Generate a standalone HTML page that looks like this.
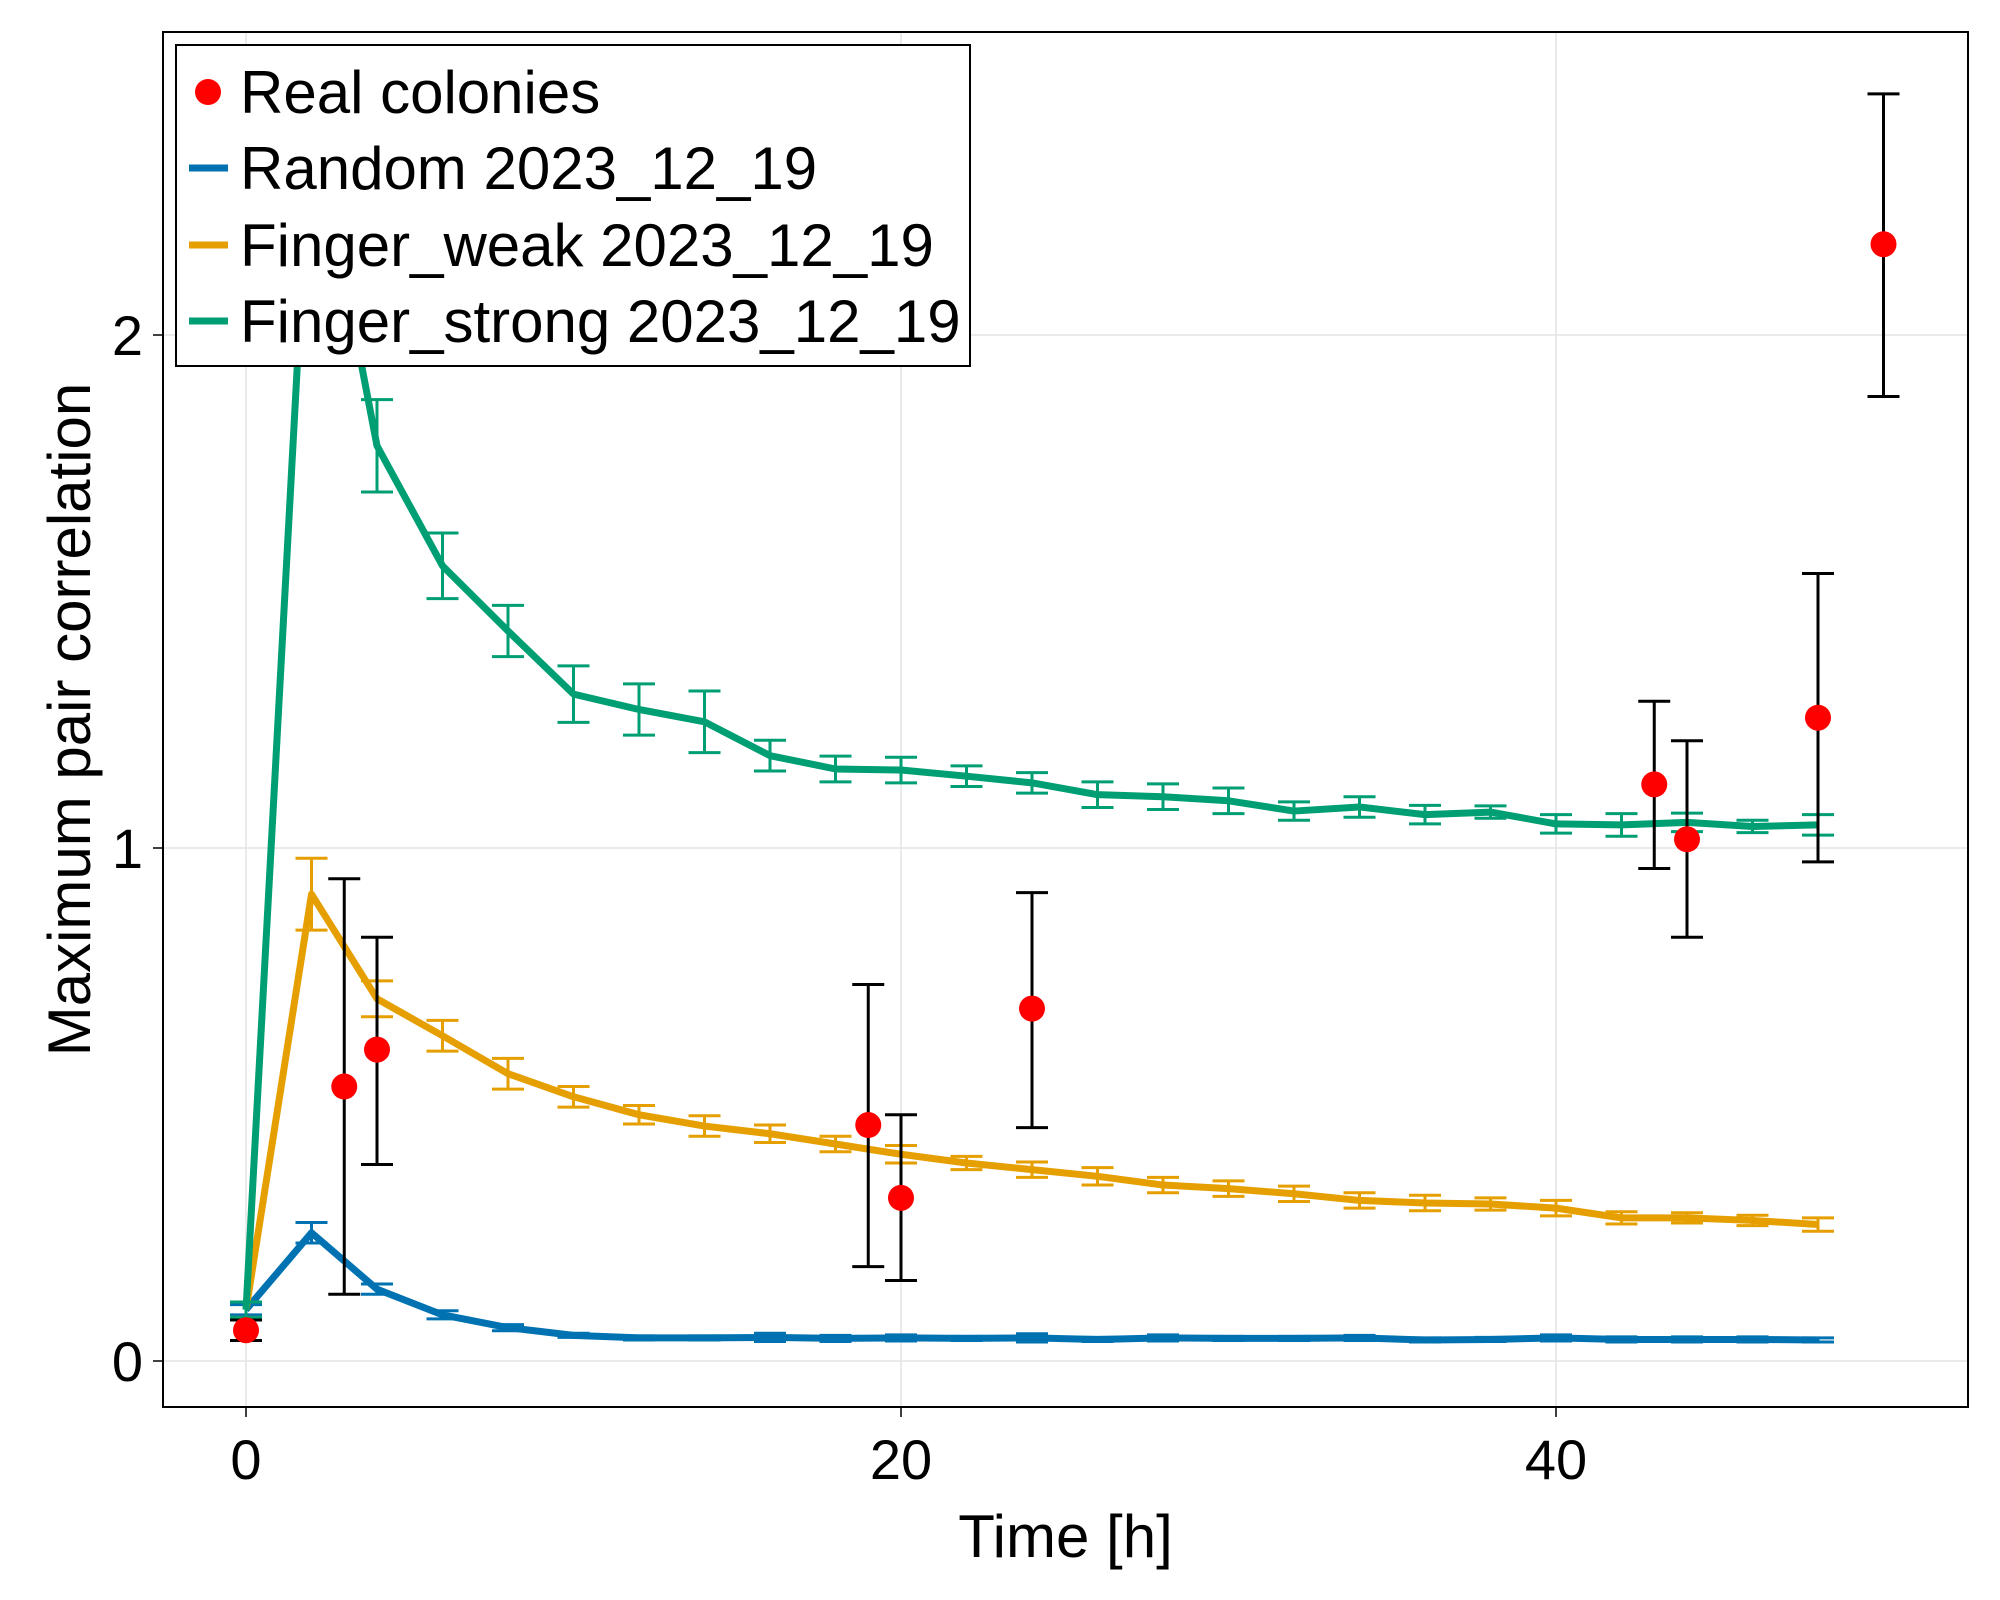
<!DOCTYPE html>
<html><head><meta charset="utf-8"><style>
html,body{margin:0;padding:0;background:#fff;}
svg{display:block;font-family:"Liberation Sans",Arial,sans-serif;}
</style></head>
<body>
<svg id="chart" width="2000" height="1600" viewBox="0 0 2000 1600" xmlns="http://www.w3.org/2000/svg">
<rect width="2000" height="1600" fill="#fff"/>
<g id="grid"></g>
<g id="marks"></g>
<g id="axes"></g>
<g id="legend"></g>
</svg>
<script>
const simTimes = [0,2,4,6,8,10,12,14,16,18,20,22,24,26,28,30,32,34,36,38,40,42,44,46,48];
const randomMean = [0.10,0.25,0.14,0.09,0.065,0.05,0.045,0.045,0.046,0.044,0.045,0.044,0.045,0.042,0.045,0.044,0.044,0.045,0.041,0.042,0.045,0.042,0.042,0.042,0.041];
const randomErr = [0.01,0.02,0.01,0.008,0.006,0.004,0.004,0.004,0.008,0.006,0.006,0.004,0.008,0.004,0.006,0.004,0.004,0.005,0.004,0.004,0.006,0.005,0.005,0.005,0.004];
const weakMean = [0.10,0.91,0.706,0.634,0.56,0.515,0.48,0.458,0.443,0.423,0.403,0.386,0.373,0.36,0.343,0.336,0.326,0.313,0.308,0.306,0.298,0.279,0.279,0.274,0.266];
const weakErr = [0.015,0.07,0.035,0.03,0.03,0.02,0.018,0.02,0.017,0.015,0.017,0.013,0.015,0.017,0.015,0.015,0.015,0.015,0.015,0.012,0.015,0.012,0.01,0.01,0.013];
const strongMean = [0.10,2.45,1.784,1.55,1.423,1.30,1.27,1.246,1.18,1.154,1.152,1.14,1.127,1.104,1.10,1.092,1.072,1.08,1.065,1.07,1.047,1.045,1.05,1.042,1.045];
const strongErr = [0.015,0.09,0.09,0.064,0.05,0.055,0.05,0.06,0.03,0.025,0.025,0.02,0.02,0.025,0.025,0.025,0.018,0.02,0.018,0.012,0.018,0.022,0.018,0.012,0.02];
const realTimes = [0,3,4,19,20,24,43,44,48,50];
const realMean = [0.06,0.535,0.607,0.46,0.318,0.687,1.124,1.017,1.254,2.177];
const realLow = [0.04,0.13,0.383,0.184,0.157,0.455,0.96,0.826,0.973,1.88];
const realHigh = [0.08,0.94,0.826,0.734,0.48,0.913,1.286,1.209,1.535,2.47];
const xTicks = [0,20,40];
const yTicks = [0,1,2];
const xTickLabels = ["0","20","40"];
const yTickLabels = ["0","1","2"];

const NS="http://www.w3.org/2000/svg";
const L=163,R=1968,T=32,B=1407;
const x0=246, xs=32.75, y0=1361, ys=513;
const X=v=>x0+v*xs, Y=v=>y0-v*ys;
function mk(tag,attrs,parent){const e=document.createElementNS(NS,tag);for(const k in attrs)e.setAttribute(k,attrs[k]);parent.appendChild(e);return e;}
const grid=document.getElementById('grid'),marks=document.getElementById('marks'),axes=document.getElementById('axes'),legend=document.getElementById('legend');

const defs=mk('defs',{},document.getElementById('chart'));
const cp=mk('clipPath',{id:'clip'},defs);
mk('rect',{x:L,y:T,width:R-L,height:B-T},cp);
marks.setAttribute('clip-path','url(#clip)');

xTicks.forEach((t,i)=>{
  const g=mk('line',{x1:X(t),x2:X(t),y1:T,y2:B,stroke:'#e3e3e3','stroke-width':1.5},grid);
  
  
  const tk=mk('line',{x1:X(t),x2:X(t),y1:B,y2:B+10,stroke:'#000','stroke-width':1.5},axes);
  
  
  const tx=mk('text',{x:X(t),y:B+72,'text-anchor':'middle','font-size':56,fill:'#000'},axes);
  tx.textContent=xTickLabels[i];
  
  
});
yTicks.forEach((t,i)=>{
  const g=mk('line',{x1:L,x2:R,y1:Y(t),y2:Y(t),stroke:'#e3e3e3','stroke-width':1.5},grid);
  
  
  const tk=mk('line',{x1:L-10,x2:L,y1:Y(t),y2:Y(t),stroke:'#000','stroke-width':1.5},axes);
  
  
  const tx=mk('text',{x:L-20,y:Y(t)+20,'text-anchor':'end','font-size':56,fill:'#000'},axes);
  tx.textContent=yTickLabels[i];
  
  
});

function series(means,errs,color,name){
  const g=mk('g',{},marks);
  
  
  simTimes.forEach((t,i)=>{
    const e=mk('path',{d:`M${X(t)-16},${Y(means[i]+errs[i])}H${X(t)+16}M${X(t)},${Y(means[i]+errs[i])}V${Y(means[i]-errs[i])}M${X(t)-16},${Y(means[i]-errs[i])}H${X(t)+16}`,stroke:color,'stroke-width':3,fill:'none'},g);
    
    
  });
  const p=mk('polyline',{points:simTimes.map((t,i)=>X(t)+','+Y(means[i])).join(' '),stroke:color,'stroke-width':7,fill:'none','stroke-linejoin':'round'},g);
  
  
}
series(randomMean,randomErr,'#0072b2','random');
series(weakMean,weakErr,'#e69f00','finger-weak');
series(strongMean,strongErr,'#009e73','finger-strong');

const rg=mk('g',{},marks);


realTimes.forEach((t,i)=>{
  const e=mk('path',{d:`M${X(t)-16},${Y(realHigh[i])}H${X(t)+16}M${X(t)},${Y(realHigh[i])}V${Y(realLow[i])}M${X(t)-16},${Y(realLow[i])}H${X(t)+16}`,stroke:'#000','stroke-width':3,fill:'none'},rg);
  
  
});
realTimes.forEach((t,i)=>{
  const c=mk('circle',{cx:X(t),cy:Y(realMean[i]),r:13,fill:'#ff0000'},rg);
  
  
});

const frame=mk('rect',{x:L,y:T,width:R-L,height:B-T,fill:'none',stroke:'#000','stroke-width':2},axes);


const xt=mk('text',{x:(L+R)/2,y:1557,'text-anchor':'middle','font-size':60,fill:'#000'},axes);
xt.textContent='Time [h]';


const yt=mk('text',{x:0,y:0,'text-anchor':'middle','font-size':60,fill:'#000',transform:`translate(90,${(T+B)/2}) rotate(-90)`},axes);
yt.textContent='Maximum pair correlation';



const lb=mk('rect',{x:176,y:45,width:794,height:321,fill:'#fff',stroke:'#000','stroke-width':2},legend);


const legLabels=['Real colonies','Random 2023_12_19','Finger_weak 2023_12_19','Finger_strong 2023_12_19'];
const legColors=['#ff0000','#0072b2','#e69f00','#009e73'];
const legY=[92,168,245,321];
legLabels.forEach((lab,i)=>{
  const g=mk('g',{},legend);
  
  
  if(i===0) mk('circle',{cx:208,cy:legY[i],r:13,fill:legColors[i]},g);
  else mk('line',{x1:189,x2:228,y1:legY[i],y2:legY[i],stroke:legColors[i],'stroke-width':7},g);
  const t=mk('text',{x:240,y:legY[i]+21,'font-size':60,fill:'#000'},g);
  t.textContent=lab;
});
</script>
</body></html>
